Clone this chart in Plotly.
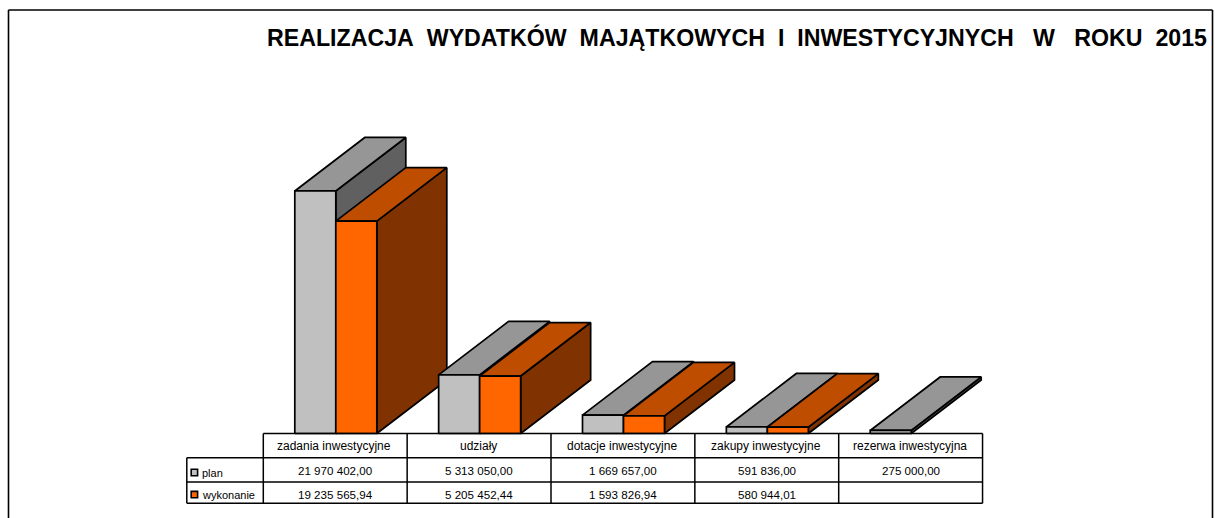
import plotly.graph_objects as go

categories = ["zadania inwestycyjne", "udziały", "dotacje inwestycyjne", "zakupy inwestycyjne", "rezerwa inwestycyjna"]
plan = [21970402.00, 5313050.00, 1669657.00, 591836.00, 275000.00]
wykonanie = [19235565.94, 5205452.44, 1593826.94, 580944.01, None]
title = "REALIZACJA\u00a0 WYDATKÓW\u00a0 MAJĄTKOWYCH\u00a0 I\u00a0 INWESTYCYJNYCH\u00a0\u00a0 W\u00a0\u00a0 ROKU\u00a0 2015"

W, H = 1215, 518
X0, XU = 335.2, 143.85      # pixel of category 0, pixels per category
Y0, YU = 433.5, 11.04e-6    # baseline pixel, pixels per unit of value
FONT = "Liberation Sans"

def dx(px): return px / XU
def dy(px): return px / YU

bar_w = dx(41)
bar_shift = dx(0.6)
depth_x, depth_y = dx(70), dy(53.5)

STYLE = {
    "plan": ("#C0C0C0", "#969696", "#606060"),
    "wyk": ("#FF6600", "#BF4D00", "#803300"),
}

fig = go.Figure()

def face(xs, ys, color):
    fig.add_trace(go.Scatter(x=xs + xs[:1], y=ys + ys[:1], mode="lines", fill="toself",
                             fillcolor=color, line=dict(color="#000000", width=1.7),
                             hoverinfo="skip", showlegend=False))

def bar(left, v, style):
    right = left + bar_w
    front, top, side = STYLE[style]
    face([right, right + depth_x, right + depth_x, right],
         [0, depth_y, v + depth_y, v], side)
    face([left, left + depth_x, right + depth_x, right],
         [v, v + depth_y, v + depth_y, v], top)
    face([left, right, right, left], [0, 0, v, v], front)

for i in range(len(categories)):
    bar(i - bar_w + bar_shift, plan[i], "plan")
    if wykonanie[i] is not None:
        bar(i + bar_shift, wykonanie[i], "wyk")

def fmt(v):
    return "" if v is None else f"{v:,.2f}".replace(",", "\u00a0").replace(".", ",")

def X(px): return px / W
def Y(px): return 1 - px / H

shapes, ann = [], []
def line(x0, y0, x1, y1, width=1.5, color="#000000"):
    shapes.append(dict(type="line", xref="paper", yref="paper", x0=X(x0), x1=X(x1), y0=Y(y0), y1=Y(y1),
                       line=dict(color=color, width=width)))

def text(px, py, s, size=11.6, anchor="center", bold=False):
    ann.append(dict(xref="paper", yref="paper", x=X(px), y=Y(py), text=f"<b>{s}</b>" if bold else s,
                    showarrow=False, xanchor=anchor, yanchor="middle",
                    font=dict(family=FONT, size=size, color="#000000"), borderpad=0))

# outer frame (open at the bottom edge of the picture)
line(8.5, 10, 1212.5, 10, 1.6)
line(8.5, 10, 8.5, 518, 1.6)
line(1212.5, 10, 1212.5, 518, 1.6)

# data table
col_left = [X0 - 71.9 + XU * i for i in range(len(categories) + 1)]
rows = [433.5, 457.8, 482, 503.3]
LEFT = 186.8
line(col_left[0], rows[0], col_left[-1], rows[0])
for r in rows[1:]:
    line(LEFT, r, col_left[-1], r)
line(LEFT, rows[1], LEFT, rows[3])
for c in col_left:
    line(c, rows[0], c, rows[3])

for i, c in enumerate(categories):
    cx = X0 + XU * i
    text(cx - 1, 445.5, c, size=12)
    text(cx, 470.5, fmt(plan[i]))
    text(cx, 494, fmt(wykonanie[i]))

for label, color, ky, ty in (("plan", "#C0C0C0", 472.5, 473), ("wykonanie", "#FF6600", 494.6, 495)):
    shapes.append(dict(type="rect", xref="paper", yref="paper", x0=X(191.2), x1=X(197.6),
                       y0=Y(ky - 3.2), y1=Y(ky + 3.2), fillcolor=color, line=dict(color="#000000", width=1.6)))
    text(201, ty, label, size=11, anchor="left")

text(736.5, 37.5, title, size=23.2, bold=True)

fig.update_layout(
    width=W, height=H, margin=dict(l=0, r=0, t=0, b=0, pad=0),
    paper_bgcolor="#FFFFFF", plot_bgcolor="#FFFFFF", showlegend=False,
    xaxis=dict(visible=False, range=[(0 - X0) / XU, (W - X0) / XU], fixedrange=True),
    yaxis=dict(visible=False, range=[(Y0 - H) / YU, Y0 / YU], fixedrange=True),
    shapes=shapes, annotations=ann,
)
fig.write_html("out.html", config={"displayModeBar": False},
               post_script="document.body.style.margin='0';")
